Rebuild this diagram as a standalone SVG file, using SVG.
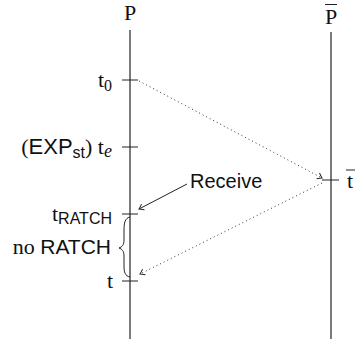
<svg xmlns="http://www.w3.org/2000/svg" width="357" height="343" viewBox="0 0 357 343">
<style>
.life{stroke:#222;stroke-width:1.2}
.tick{stroke:#222;stroke-width:1}
.msg{stroke:#333;stroke-width:1;stroke-dasharray:1 3;fill:none}
.arr{stroke:#222;stroke-width:1;fill:none}
.serif{font-family:"Liberation Serif",serif;font-size:22px;fill:#111}
.sans{font-family:"Liberation Sans",sans-serif;fill:#111}
</style>
<defs>
<marker id="hook" markerUnits="userSpaceOnUse" markerWidth="12" markerHeight="12" viewBox="-6 -6 12 12" refX="0" refY="0" orient="auto">
<path d="M -4.5 -3.2 Q -1.2 -0.6 0 0 Q -1.2 0.6 -4.5 3.2" fill="none" stroke="#222" stroke-width="1"/>
</marker>
</defs>
<g id="P">
<text class="serif" x="130" y="20" text-anchor="middle">P</text>
<line class="life" x1="130" y1="30" x2="130" y2="339"/>
</g>
<g id="Pbar">
<text class="serif" x="331" y="24" text-anchor="middle">P</text>
<line class="tick" x1="325" y1="4.5" x2="337" y2="4.5"/>
<line class="life" x1="331" y1="32" x2="331" y2="339"/>
</g>
<g id="t0">
<line class="tick" x1="122" y1="80" x2="138" y2="80"/>
<text class="serif" x="112" y="87" text-anchor="end">t<tspan font-size="16" dy="4">0</tspan></text>
</g>
<g id="te">
<line class="tick" x1="122" y1="147" x2="138" y2="147"/>
<text class="serif" font-size="23" x="112" y="154" text-anchor="end">(<tspan class="sans" font-size="22">EXP</tspan><tspan class="sans" font-size="16" dy="4">st</tspan><tspan dy="-4">) t</tspan><tspan font-style="italic" font-size="18" dy="3">e</tspan></text>
</g>
<g id="tRATCH">
<line class="tick" x1="122" y1="214" x2="138" y2="214"/>
<text class="serif" x="112" y="221" text-anchor="end">t<tspan class="sans" font-size="16" dy="3">RATCH</tspan></text>
</g>
<g id="noRATCH">
<path class="arr" d="M130,217 C125,218 124,223 124,230 L124,240 C124,245 122,247 119,248 C122,249 124,251 124,256 L124,266 C124,272 125,276 130,277"/>
<text class="serif" x="111" y="254" text-anchor="end">no <tspan class="sans" font-size="21">RATCH</tspan></text>
</g>
<g id="t">
<line class="tick" x1="122" y1="281" x2="138" y2="281"/>
<text class="serif" x="113" y="288" text-anchor="end">t</text>
</g>
<g id="tbar">
<line class="tick" x1="322" y1="180" x2="339" y2="180"/>
<text class="serif" x="347" y="188">t</text>
<line class="tick" x1="346" y1="170" x2="355" y2="170"/>
</g>
<g id="receive">
<text class="sans" font-size="20" x="190" y="188">Receive</text>
</g>
<g id="connectors">
<line class="msg" x1="139" y1="81" x2="322" y2="178" marker-end="url(#hook)"/>
<line class="msg" x1="322" y1="183" x2="140" y2="274" marker-end="url(#hook)"/>
<line class="arr" x1="187" y1="184" x2="139" y2="209" marker-end="url(#hook)"/>
</g>
</svg>
